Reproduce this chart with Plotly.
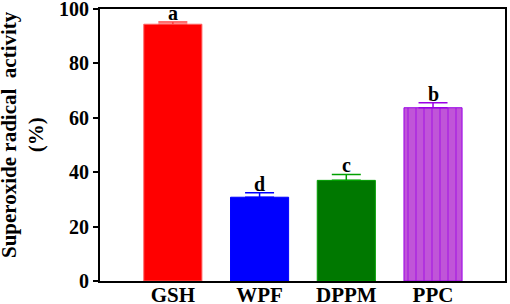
import plotly.graph_objects as go

categories = ["GSH", "WPF", "DPPM", "PPC"]
values = [94.4, 30.8, 37.0, 63.7]
errors = [0.8, 1.6, 2.2, 1.8]
letters = ["a", "d", "c", "b"]
fill_colors = ["#FF0000", "#0000FF", "#007800", "#C055D8"]
line_colors = ["#FF6060", "#0000FF", "#00A000", "#9A00E6"]
y_title = "Superoxide radical  activity<br>(%)"

FONT = "Liberation Serif"

fig = go.Figure()
for i, cat in enumerate(categories):
    pattern = dict(shape="|", fgcolor="#9A00E6", bgcolor="#C055D8", size=8, solidity=0.2) if cat == "PPC" else dict(shape="")
    fig.add_trace(go.Bar(
        x=[cat], y=[values[i]],
        marker=dict(color=fill_colors[i], line=dict(color=line_colors[i], width=1), pattern=pattern),
        error_y=dict(type="data", array=[errors[i]], arrayminus=[0], symmetric=False,
                     color=line_colors[i] if cat != "GSH" else "#FF4040", thickness=1.5, width=14.5),
        width=0.67, showlegend=False, hoverinfo="skip",
    ))
    fig.add_annotation(x=cat, y=values[i] + errors[i], text="<b>%s</b>" % letters[i],
                       showarrow=False, yanchor="bottom", yshift=-4,
                       font=dict(family=FONT, size=20, color="black"))

fig.add_annotation(xref="paper", yref="paper", x=-0.185, y=0.537, xanchor="center", yanchor="middle",
                   xshift=-2, text="<b>%s</b>" % y_title, textangle=-90, showarrow=False,
                   font=dict(family=FONT, size=21, color="black"))

fig.update_layout(
    width=510, height=304,
    margin=dict(l=100, r=5, t=9, b=23, autoexpand=False),
    plot_bgcolor="white", paper_bgcolor="white",
    font=dict(family=FONT, color="black"),
)
fig.update_xaxes(
    range=[-0.84, 3.83], showline=True, linecolor="black", linewidth=2, mirror=True,
    ticks="", tickfont=dict(family=FONT, size=21, color="black"), automargin=False,
    tickprefix="<b>", ticksuffix="</b>", ticklabeloverflow="allow", ticklabelstandoff=-6,
)
fig.update_yaxes(
    range=[0, 100], dtick=20, showline=True, linecolor="black", linewidth=2, mirror=True,
    ticks="outside", ticklen=5, tickwidth=2, tickcolor="black", showgrid=False, zeroline=False,
    tickfont=dict(family=FONT, size=20, color="black"), ticklabeloverflow="allow", automargin=False,
    tickprefix="<b>", ticksuffix="</b>",
)
fig.write_html("out.html", config={"displayModeBar": False},
               post_script="document.body.style.margin='0';document.body.style.overflow='hidden';")
